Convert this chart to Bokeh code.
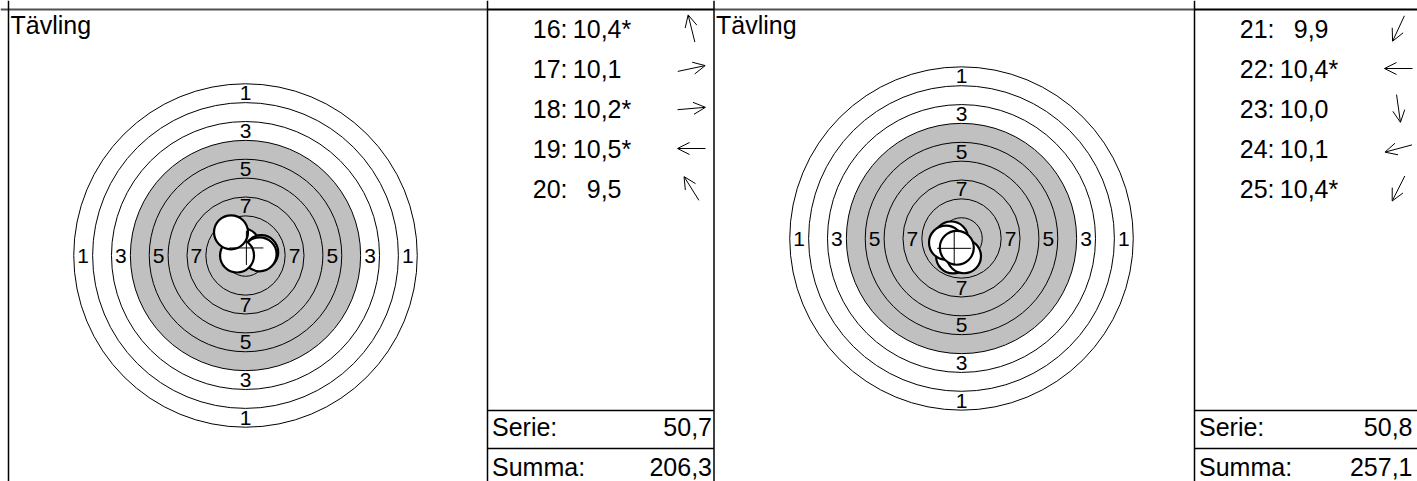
import math
from bokeh.plotting import figure
from bokeh.models import Range1d, ColumnDataSource, Arrow, OpenHead
from bokeh.embed import file_html
from bokeh.resources import INLINE
from bokeh.core.properties import value

# ---------------- data ----------------
title = "Tävling"
ring_numbers = [1, 2, 3, 4, 5, 6, 7, 8, 9, 10]
ring_radius_mm = [22.75, 20.25, 17.75, 15.25, 12.75, 10.25, 7.75, 5.25, 2.75, 0.25]
black_from_ring = 4
labelled_rings = [1, 3, 5, 7]
pellet_radius_mm = 2.25

shots1_no = ["16", "17", "18", "19", "20"]
shots1_score = [10.4, 10.1, 10.2, 10.5, 9.5]
shots1_inner = [True, False, True, True, False]
shots1_x = [-0.33, 2.08, 1.87, -1.12, -1.92]
shots1_y = [1.33, 0.44, 0.16, 0.00, 3.07]

shots2_no = ["21", "22", "23", "24", "25"]
shots2_score = [9.9, 10.4, 10.0, 10.1, 10.4]
shots2_inner = [False, True, False, False, True]
shots2_x = [-1.11, -1.38, 0.33, -2.05, -0.62]
shots2_y = [-2.38, 0.00, -2.35, -0.55, -1.23]

serie_totals = [50.7, 50.8]
summa_totals = [206.3, 257.1]
footer_labels = ["Serie:", "Summa:"]

# ---------------- layout ----------------
W, H = 1417, 481
S = 7.55  # px per mm
FONT = value("Liberation Sans")
BIG = "25px"


def fmt(v):
    return f"{v:.1f}".replace(".", ",")


p = figure(width=W, height=H, x_range=Range1d(0, W), y_range=Range1d(H, 0),
           output_backend="svg", toolbar_location=None, min_border=0)
p.axis.visible = False
p.grid.visible = False
p.outline_line_color = None
p.background_fill_color = "white"
p.border_fill_color = "white"

panels = [
    dict(tleft=8, lleft=487, lright=713.5, cx=245, cy=255, name="t1",
         no=shots1_no, score=shots1_score, inner=shots1_inner, sx=shots1_x, sy=shots1_y,
         vright=711.5),
    dict(tleft=713.5, lleft=1194, lright=W, cx=961, cy=238, name="t2",
         no=shots2_no, score=shots2_score, inner=shots2_inner, sx=shots2_x, sy=shots2_y,
         vright=1412),
]

# frame lines
p.segment(x0=[0, 487, 713.5, 1194], y0=[9] * 4, x1=[487, 713.5, 1194, W], y1=[9] * 4,
          line_color=["#505050", "black", "#505050", "black"], line_width=2)
p.segment(x0=[8, 487, 713.5, 1194], y0=[0] * 4, x1=[8, 487, 713.5, 1194], y1=[H] * 4,
          line_color="black", line_width=1.5)
for pn in panels:
    p.segment(x0=[pn["lleft"]] * 2, y0=[410, 448], x1=[pn["lright"]] * 2, y1=[410, 448],
              line_color="black", line_width=1.5)

row_mid = [28, 68, 108, 148, 188]

for i, pn in enumerate(panels):
    cx, cy, nm = pn["cx"], pn["cy"], pn["name"]
    p.extra_x_ranges[nm + "x"] = Range1d((0 - cx) / S, (W - cx) / S)
    p.extra_y_ranges[nm + "y"] = Range1d((cy - H) / S, cy / S)
    kw = dict(x_range_name=nm + "x", y_range_name=nm + "y")

    # title
    p.text(x=[pn["tleft"] + 2], y=[24], text=[title], text_font=FONT, text_font_size=BIG,
           text_baseline="middle", text_align="left", text_color="black")

    # target
    p.circle(x=[0], y=[0], radius=[ring_radius_mm[0]], fill_color="white", line_color=None, **kw)
    p.circle(x=[0], y=[0], radius=[ring_radius_mm[black_from_ring - 1]],
             fill_color="#c0c0c0", line_color=None, **kw)
    p.circle(x=[0] * len(ring_radius_mm), y=[0] * len(ring_radius_mm), radius=ring_radius_mm,
             fill_color=None, line_color="black", line_width=1, **kw)
    lx, ly, lt = [], [], []
    for n in labelled_rings:
        r = (ring_radius_mm[n - 1] + ring_radius_mm[n]) / 2
        for dx, dy in [(0, 1), (0, -1), (-1, 0), (1, 0)]:
            lx.append(dx * r); ly.append(dy * r); lt.append(str(n))
    p.text(x=lx, y=ly, text=lt, text_font=FONT, text_font_size="21px", text_align="center",
           text_baseline="middle", text_color="black", **kw)

    # shots
    p.circle(x=pn["sx"], y=pn["sy"], radius=[pellet_radius_mm] * len(pn["sx"]),
             fill_color="white", line_color="black", line_width=2.2, **kw)
    mx = sum(pn["sx"]) / len(pn["sx"])
    my = sum(pn["sy"]) / len(pn["sy"])
    c = pellet_radius_mm
    p.segment(x0=[mx - c, mx], y0=[my, my - c], x1=[mx + c, mx], y1=[my, my + c],
              line_color="black", line_width=1, **kw)

    # list
    L = pn["lleft"]
    p.text(x=[L + 80] * 5, y=row_mid, text=[s + ":" for s in pn["no"]], text_font=FONT,
           text_font_size=BIG, text_align="right", text_baseline="middle", text_color="black")
    p.text(x=[L + 134] * 5, y=row_mid, text=[fmt(v) for v in pn["score"]], text_font=FONT,
           text_font_size=BIG, text_align="right", text_baseline="middle", text_color="black")
    p.text(x=[L + 134] * 5, y=row_mid, text=["*" if f else "" for f in pn["inner"]], text_font=FONT,
           text_font_size=BIG, text_align="left", text_baseline="middle", text_color="black")
    xs, ys, xe, ye = [], [], [], []
    for k in range(5):
        a = math.atan2(pn["sy"][k], pn["sx"][k])
        ax, ay, hl = L + 204, row_mid[k], 14
        xs.append(ax - hl * math.cos(a)); ys.append(ay + hl * math.sin(a))
        xe.append(ax + hl * math.cos(a)); ye.append(ay - hl * math.sin(a))
    src = ColumnDataSource(dict(xs=xs, ys=ys, xe=xe, ye=ye))
    p.add_layout(Arrow(end=OpenHead(size=12, line_width=1, line_color="black"),
                       x_start="xs", y_start="ys", x_end="xe", y_end="ye", source=src,
                       line_width=1, line_color="black"))

    # footer
    p.text(x=[L + 4.5, L + 4.5], y=[426, 466], text=footer_labels, text_font=FONT,
           text_font_size=BIG, text_align="left", text_baseline="middle", text_color="black")
    p.text(x=[pn["vright"]] * 2, y=[426, 466], text=[fmt(serie_totals[i]), fmt(summa_totals[i])],
           text_font=FONT, text_font_size=BIG, text_align="right", text_baseline="middle",
           text_color="black")

open("out.html", "w").write(file_html(p, INLINE))
